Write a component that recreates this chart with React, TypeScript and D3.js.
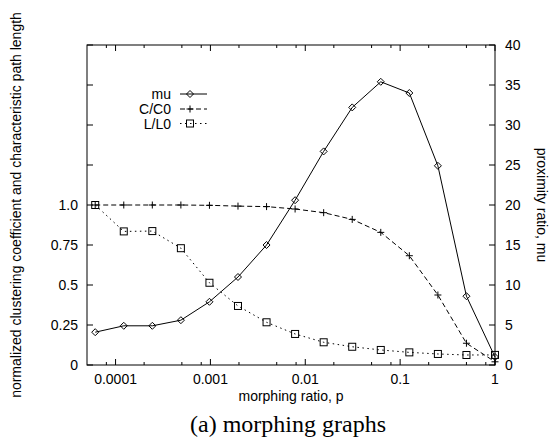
import React from "react";
import * as d3 from "d3";

const pValues = [0.00006103515625, 0.0001220703125, 0.000244140625, 0.00048828125, 0.0009765625, 0.001953125, 0.00390625, 0.0078125, 0.015625, 0.03125, 0.0625, 0.125, 0.25, 0.5, 1];
const muValues = [4.1, 4.9, 4.9, 5.6, 7.9, 11.0, 15.0, 20.6, 26.7, 32.2, 35.4, 34.0, 24.9, 8.6, 1.0];
const cValues = [1.0, 1.0, 1.0, 1.0, 0.998, 0.993, 0.99, 0.975, 0.952, 0.91, 0.829, 0.683, 0.4375, 0.136, 0.02];
const lValues = [1.0, 0.835, 0.837, 0.73, 0.514, 0.369, 0.267, 0.194, 0.142, 0.114, 0.094, 0.079, 0.069, 0.0625, 0.063];

const xTickValues = [0.0001, 0.001, 0.01, 0.1, 1];
const xTickLabels = ["0.0001", "0.001", "0.01", "0.1", "1"];
const yTickValues = [0, 0.25, 0.5, 0.75, 1.0, 1.25, 1.5, 1.75, 2.0];
const yTickLabels = ["0", "0.25", "0.5", "0.75", "1.0", "", "", "", ""];
const y2TickValues = [0, 5, 10, 15, 20, 25, 30, 35, 40];
const y2TickLabels = ["0", "5", "10", "15", "20", "25", "30", "35", "40"];
const legendLabels = ["mu", "C/C0", "L/L0"];

const L = 87, R = 495, T = 45, B = 365;
const FONT = "'Liberation Sans', Arial, Helvetica, sans-serif";

function marker(type: string, cx: number, cy: number, key: string) {
  const s = 3.5;
  if (type === "diamond") {
    return <path key={key} d={`M${cx},${cy - s}L${cx + s},${cy}L${cx},${cy + s}L${cx - s},${cy}Z`} fill="none" stroke="#000" strokeWidth={1} />;
  }
  if (type === "plus") {
    return <path key={key} d={`M${cx - s},${cy}H${cx + s}M${cx},${cy - s}V${cy + s}`} fill="none" stroke="#000" strokeWidth={1} />;
  }
  return <rect key={key} x={cx - s} y={cy - s} width={2 * s} height={2 * s} fill="none" stroke="#000" strokeWidth={1} />;
}

export default function App() {
  const x = d3.scaleLog().domain([5e-5, 1]).range([L, R]);
  const y = d3.scaleLinear().domain([0, 2]).range([B, T]);
  const y2 = d3.scaleLinear().domain([0, 40]).range([B, T]);

  const minor: number[] = [];
  for (let e = -5; e <= -1; e++) {
    for (const m of [2, 5, 8]) {
      const v = m * Math.pow(10, e);
      if (v > 5e-5 && v < 1) minor.push(v);
    }
  }

  const muLine = d3.line<number>().x((_, i) => x(pValues[i])).y((d) => y2(d));
  const yLine = d3.line<number>().x((_, i) => x(pValues[i])).y((d) => y(d));

  const series = [
    { vals: muValues, path: muLine(muValues), sc: y2, dash: undefined, m: "diamond" },
    { vals: cValues, path: yLine(cValues), sc: y, dash: "5,3", m: "plus" },
    { vals: lValues, path: yLine(lValues), sc: y, dash: "1.5,3.5", m: "square" },
  ];

  const legendY = [94, 109, 123.5];

  return (
    <svg width={553} height={440} style={{ position: "absolute", left: 0, top: 0, background: "#fff" }} fontFamily={FONT}>
      <rect x={0} y={0} width={553} height={440} fill="#fff" />
      {/* x ticks */}
      {xTickValues.map((v, i) => (
        <g key={"xt" + i}>
          <line x1={x(v)} x2={x(v)} y1={B} y2={B - 6} stroke="#000" />
          <line x1={x(v)} x2={x(v)} y1={T} y2={T + 6} stroke="#000" />
          <text x={x(v)} y={384} textAnchor="middle" fontSize={14}>{xTickLabels[i]}</text>
        </g>
      ))}
      {minor.map((v, i) => (
        <g key={"xm" + i}>
          <line x1={x(v)} x2={x(v)} y1={B} y2={B - 3} stroke="#000" />
          <line x1={x(v)} x2={x(v)} y1={T} y2={T + 3} stroke="#000" />
        </g>
      ))}
      {/* y ticks */}
      {yTickValues.map((v, i) => (
        <g key={"yt" + i}>
          <line x1={L} x2={L + 6} y1={y(v)} y2={y(v)} stroke="#000" />
          {yTickLabels[i] && (
            <text x={78} y={y(v) + 5} textAnchor="end" fontSize={14}>{yTickLabels[i]}</text>
          )}
        </g>
      ))}
      {y2TickValues.map((v, i) => (
        <g key={"y2t" + i}>
          <line x1={R} x2={R - 6} y1={y2(v)} y2={y2(v)} stroke="#000" />
          <text x={505} y={y2(v) + 5} textAnchor="start" fontSize={14}>{y2TickLabels[i]}</text>
        </g>
      ))}
      {/* frame */}
      <rect x={L} y={T} width={R - L} height={B - T} fill="none" stroke="#000" strokeWidth={1} />
      {/* series */}
      {series.map((s, si) => (
        <g key={"s" + si}>
          <path d={s.path || ""} fill="none" stroke="#000" strokeWidth={1} strokeDasharray={s.dash} />
          {s.vals.map((v, i) => marker(s.m, x(pValues[i]), s.sc(v), `m${si}-${i}`))}
        </g>
      ))}
      {/* legend */}
      {series.map((s, si) => (
        <g key={"lg" + si}>
          <text x={171} y={legendY[si] + 5} textAnchor="end" fontSize={14}>{legendLabels[si]}</text>
          <line x1={180} x2={207} y1={legendY[si]} y2={legendY[si]} stroke="#000" strokeDasharray={s.dash} />
          {marker(s.m, 190, legendY[si], "lm" + si)}
        </g>
      ))}
      {/* axis labels */}
      <text x={291} y={401} textAnchor="middle" fontSize={14}>morphing ratio, p</text>
      <text transform={`translate(21,205) rotate(-90)`} textAnchor="middle" fontSize={14}>normalized clustering coefficient and characteristic path length</text>
      <text transform={`translate(537,205) rotate(90)`} textAnchor="middle" fontSize={14}>proximity ratio, mu</text>
      <text x={288} y={432} textAnchor="middle" fontSize={24} fontFamily="'Liberation Serif', 'Times New Roman', serif">(a) morphing graphs</text>
    </svg>
  );
}
